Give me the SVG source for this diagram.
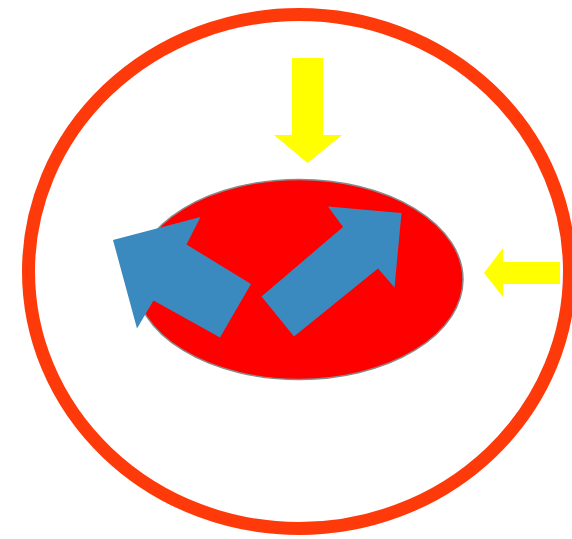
<svg xmlns="http://www.w3.org/2000/svg" width="572" height="539" viewBox="0 0 572 539">
<style>
.ring{fill:none;stroke:#FF3A0A;stroke-width:13}
.cell{fill:#FF0000;stroke:#8A8A8A;stroke-width:1.5}
.yellow{fill:#FFFF00}
.blue{fill:#3A89BF}
</style>
<rect width="572" height="539" fill="#FFFFFF"/>
<g id="outer-ring"><ellipse class="ring" cx="299" cy="271.5" rx="270.5" ry="257"/></g>
<g id="core"><ellipse class="cell" cx="299" cy="279.5" rx="164" ry="100"/></g>
<g id="connectors">
<polygon id="arrow-top" class="yellow" points="292,58 323,58 323,135 342,135 307.5,163 274,135 292,135"/>
<polygon id="arrow-right" class="yellow" points="560,262 560,284 503,284 503,297 484,273 503,248 503,262"/>
<polygon id="arrow-blue-left" class="blue" points="113,240 200.5,217 186.5,244.5 251,284 220,337.5 153.5,300.5 137,328.5"/>
<polygon id="arrow-blue-right" class="blue" points="261.5,296.5 343,227 328,206.5 401.5,213 394.5,287.5 378,268.5 294,336.5"/>
</g>
</svg>
